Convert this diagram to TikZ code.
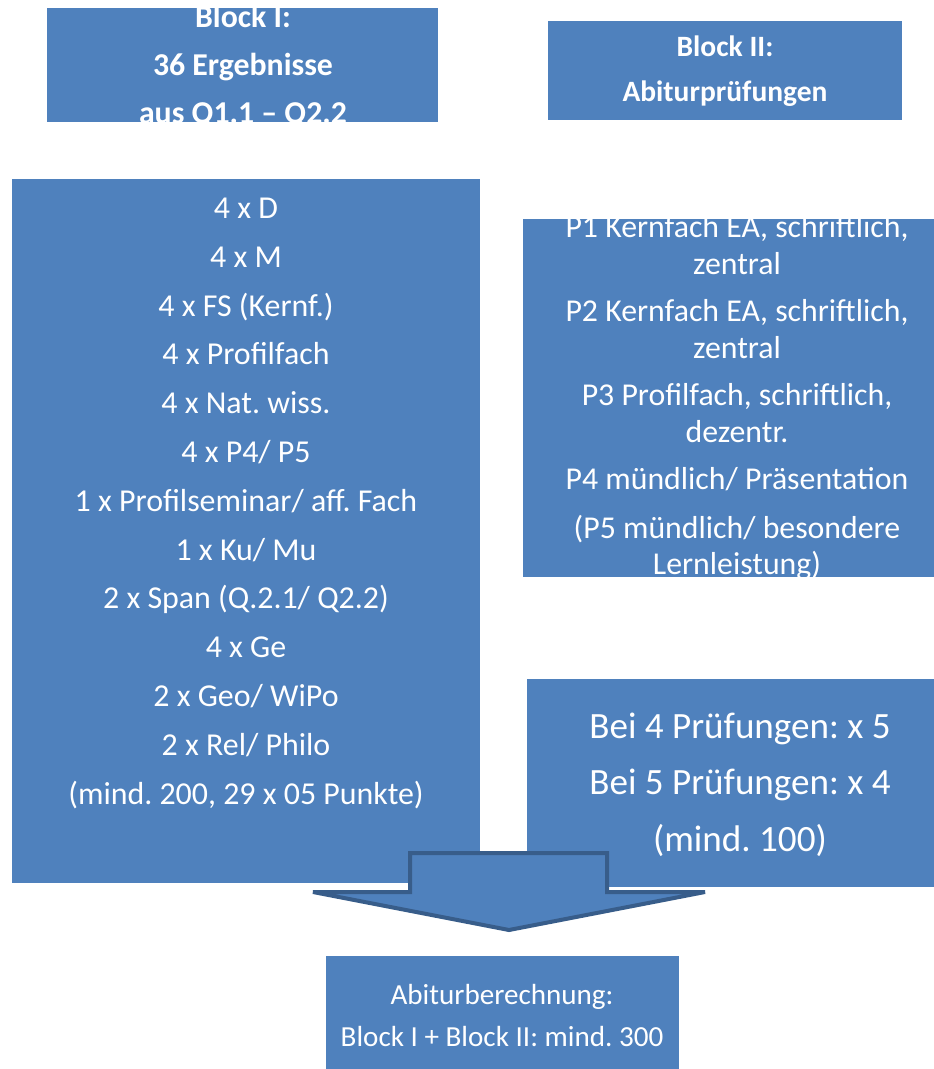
\documentclass[tikz,border=0pt]{standalone}
\usepackage{fontspec}
\setmainfont{Carlito}
\frenchspacing
\definecolor{boxblue}{HTML}{4F81BD}
\definecolor{arrowedge}{HTML}{385D8A}
\begin{document}
\begin{tikzpicture}[x=1pt,y=-1pt,
  box/.style={fill=boxblue, draw=none, inner sep=0pt, anchor=north west},
  txt/.style={text=white, align=center, inner sep=0pt},
  bigarrow/.style={fill=boxblue, draw=arrowedge, line width=4pt, line join=miter},
]
\useasboundingbox (0,0) rectangle (934,1069);

% boxes
\node[box, minimum width=391pt, minimum height=114pt] (blockI) at (47,8) {};
\node[box, minimum width=354pt, minimum height=99pt] (blockII) at (548,21) {};
\node[box, minimum width=468pt, minimum height=704pt] (left) at (12,179) {};
\node[box, minimum width=411pt, minimum height=358pt] (exams) at (523,219) {};
\node[box, minimum width=407pt, minimum height=208pt] (factor) at (527,679) {};
\node[box, minimum width=353pt, minimum height=113pt] (result) at (326,956) {};

% texts
\begin{scope}
\clip (blockI.north west) rectangle (blockI.south east);
\node[txt, font={\fontsize{31.8}{48}\selectfont\bfseries}] (blockItext) at (243,65.5)
  {\strut Block I:\\ \strut 36 Ergebnisse\\ \strut aus Q1.1 – Q2.2};
\end{scope}

\node[txt, font={\fontsize{29.5}{45}\selectfont\bfseries}] (blockIItext) at (725,70)
  {\strut Block II:\\ \strut Abiturprüfungen};

\node[txt, font={\fontsize{31.9}{48.8}\selectfont}] (lefttext) at (246,501.5)
  {\strut 4 x D\\ \strut 4 x M\\ \strut 4 x FS (Kernf.)\\ \strut 4 x Profilfach\\
   \strut 4 x Nat. wiss.\\ \strut 4 x P4/ P5\\ \strut 1 x Profilseminar/ aff. Fach\\
   \strut 1 x Ku/ Mu\\ \strut 2 x Span (Q.2.1/ Q2.2)\\ \strut 4 x Ge\\
   \strut 2 x Geo/ WiPo\\ \strut 2 x Rel/ Philo\\ \strut (mind. 200, 29 x 05 Punkte)};

\begin{scope}
\clip (exams.north west) rectangle (exams.south east);
\node[txt, font={\fontsize{31.8}{36.5}\selectfont}] (examstext) at (737,399)
  {\strut P1 Kernfach EA, schriftlich,\\ \strut zentral\\[11pt]
   \strut P2 Kernfach EA, schriftlich,\\ \strut zentral\\[11pt]
   \strut P3 Profilfach, schriftlich,\\ \strut dezentr.\\[11pt]
   \strut P4 mündlich/ Präsentation\\[12pt]
   \strut (P5 mündlich/ besondere\\ \strut Lernleistung)};
\end{scope}

\node[txt, font={\fontsize{37.1}{56.5}\selectfont}] (factortext) at (740,783.5)
  {\strut Bei 4 Prüfungen: x 5\\ \strut Bei 5 Prüfungen: x 4\\ \strut (mind. 100)};

\node[txt, font={\fontsize{29.1}{42}\selectfont}] (resulttext) at (502,1017)
  {\strut Abiturberechnung:\\ \strut Block I + Block II: mind. 300};

% big down arrow
\coordinate (a1) at (410,853);
\coordinate (a2) at (607,853);
\coordinate (a3) at (607,892);
\coordinate (a4) at (705,892);
\coordinate (tip) at (509,930);
\coordinate (a6) at (313,892);
\coordinate (a7) at (410,892);
\draw[bigarrow] (a1) -- (a2) -- (a3) -- (a4) -- (tip) -- (a6) -- (a7) -- cycle;
\end{tikzpicture}
\end{document}
